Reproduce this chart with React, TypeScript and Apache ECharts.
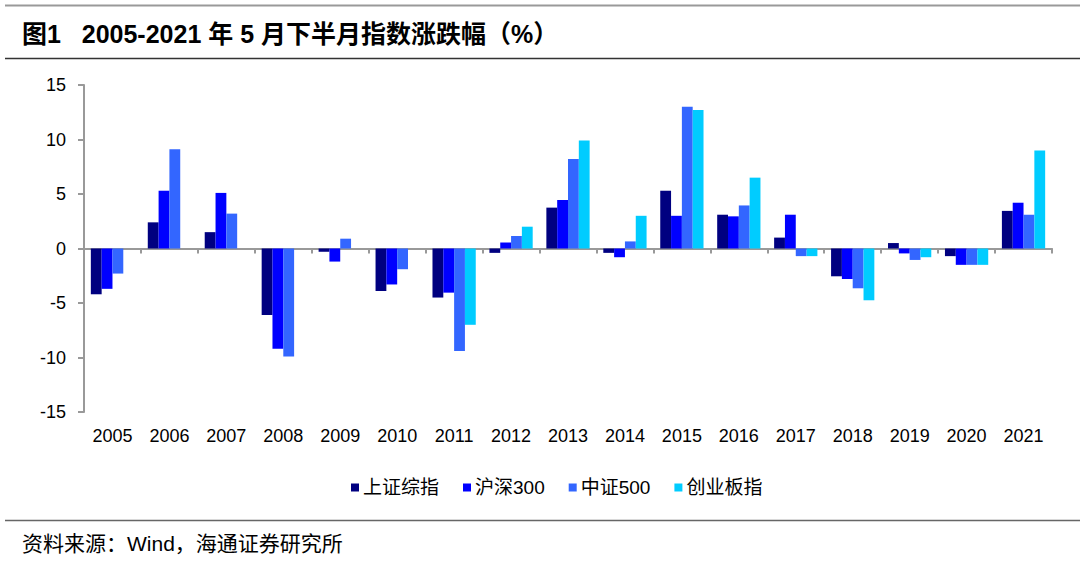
import React, { useEffect, useRef } from "react";
import * as echarts from "echarts";

const years = ["2005","2006","2007","2008","2009","2010","2011","2012","2013","2014","2015","2016","2017","2018","2019","2020","2021"];
const shComposite = [-4.2, 2.4, 1.5, -6.1, -0.3, -3.9, -4.5, -0.4, 3.75, -0.4, 5.3, 3.1, 1.0, -2.55, 0.5, -0.7, 3.45];
const hs300 = [-3.7, 5.3, 5.1, -9.2, -1.2, -3.3, -4.05, 0.55, 4.45, -0.8, 3.0, 2.95, 3.1, -2.8, -0.45, -1.5, 4.2];
const zz500 = [-2.3, 9.1, 3.2, -9.9, 0.9, -1.9, -9.4, 1.15, 8.2, 0.65, 13.0, 3.95, -0.7, -3.65, -1.05, -1.5, 3.1];
const chinext = [null, null, null, null, null, null, -7.0, 2.0, 9.9, 3.0, 12.7, 6.5, -0.7, -4.75, -0.8, -1.5, 9.0];
const yTicks = { min: -15, max: 15, interval: 5 };
const seriesNames = ["上证综指", "沪深300", "中证500", "创业板指"];
const seriesColors = ["#000080", "#0000FF", "#3366FF", "#00CCFF"];
const titleText = "图1   2005-2021 年 5 月下半月指数涨跌幅（%）";
const sourceText = "资料来源：Wind，海通证券研究所";

const FONT = "'Liberation Sans', Arial, 'Noto Sans CJK SC', sans-serif";

export default function App() {
  const ref = useRef<HTMLDivElement>(null);
  useEffect(() => {
    document.body.style.margin = "0";
    const chart = echarts.init(ref.current!, undefined, { renderer: "svg" });
    const data = [shComposite, hs300, zz500, chinext];
    chart.setOption({
      animation: false,
      backgroundColor: "#ffffff",
      textStyle: { fontFamily: FONT },
      grid: { left: 84, right: 28, top: 85, bottom: 157, containLabel: false },
      legend: {
        data: seriesNames,
        top: 473,
        left: 346,
        itemWidth: 8,
        itemHeight: 8,
        itemGap: 24,
        icon: "rect",
        textStyle: { fontSize: 19, color: "#000", fontFamily: FONT, padding: [0, 0, 0, -1] },
      },
      xAxis: [
        {
          type: "category",
          data: years,
          position: "bottom",
          axisLine: { show: false, onZero: false },
          axisTick: { show: false },
          axisLabel: { fontSize: 18, color: "#000", margin: 15 },
        },
        {
          type: "category",
          data: years,
          position: "bottom",
          axisLine: { show: true, onZero: true, lineStyle: { color: "#999", width: 2 } },
          axisTick: { show: true, length: 5, lineStyle: { color: "#999", width: 2 } },
          axisLabel: { show: false },
        },
      ],
      yAxis: {
        type: "value",
        min: yTicks.min,
        max: yTicks.max,
        interval: yTicks.interval,
        axisLine: { show: true, lineStyle: { color: "#999", width: 2 } },
        axisTick: { show: true, length: 6, lineStyle: { color: "#999", width: 2 } },
        axisLabel: { fontSize: 18, color: "#000", margin: 18 },
        splitLine: { show: false },
      },
      series: seriesNames.map((name, i) => ({
        name,
        type: "bar",
        xAxisIndex: 0,
        data: data[i],
        barGap: "0%",
        barCategoryGap: "24%",
        itemStyle: { color: seriesColors[i] },
      })),
      graphic: [
        { type: "line", shape: { x1: 5, y1: 5.5, x2: 1080, y2: 5.5 }, style: { stroke: "#999", lineWidth: 2 } },
        { type: "text", x: 22, y: 34, style: { text: titleText, fontSize: 25, fontWeight: "bold", fill: "#000", textVerticalAlign: "middle", fontFamily: FONT } },
        { type: "line", shape: { x1: 5, y1: 58.5, x2: 1080, y2: 58.5 }, style: { stroke: "#333", lineWidth: 1.5 } },
        { type: "line", shape: { x1: 5, y1: 520.5, x2: 1080, y2: 520.5 }, style: { stroke: "#666", lineWidth: 1.5 } },
        { type: "text", x: 22, y: 543, style: { text: sourceText, fontSize: 21, fill: "#000", textVerticalAlign: "middle", fontFamily: FONT } },
      ],
    });
    return () => chart.dispose();
  }, []);
  return <div ref={ref} style={{ width: 1080, height: 569, position: "absolute", left: 0, top: 0 }} />;
}
